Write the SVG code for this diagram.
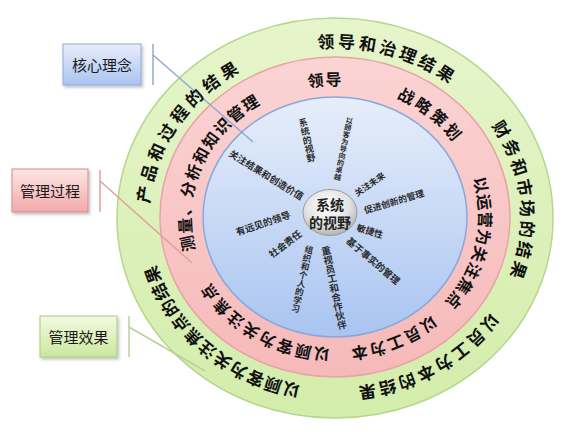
<svg xmlns="http://www.w3.org/2000/svg" width="571" height="432" viewBox="0 0 571 432">
<defs>
<linearGradient id="gGreen" x1="0" y1="0" x2="0" y2="1"><stop offset="0" stop-color="#e6f5cb"/><stop offset="1" stop-color="#d3edab"/></linearGradient>
<linearGradient id="gPink" x1="0" y1="0" x2="0" y2="1"><stop offset="0" stop-color="#fbd4d4"/><stop offset="1" stop-color="#f6b9b9"/></linearGradient>
<linearGradient id="gBlue" x1="0" y1="0" x2="0" y2="1"><stop offset="0" stop-color="#e7eefa"/><stop offset="1" stop-color="#a9c4f1"/></linearGradient>
<radialGradient id="gGray" cx="0.45" cy="0.35" r="0.7"><stop offset="0" stop-color="#ffffff"/><stop offset="0.6" stop-color="#e2e2e2"/><stop offset="1" stop-color="#a9a9a9"/></radialGradient>
<linearGradient id="bBlue" x1="0" y1="0" x2="0" y2="1"><stop offset="0" stop-color="#e8eefc"/><stop offset="1" stop-color="#aac3f0"/></linearGradient>
<linearGradient id="bPink" x1="0" y1="0" x2="0" y2="1"><stop offset="0" stop-color="#fde6e6"/><stop offset="1" stop-color="#f3a9a9"/></linearGradient>
<linearGradient id="bGreen" x1="0" y1="0" x2="0" y2="1"><stop offset="0" stop-color="#f3fae0"/><stop offset="1" stop-color="#cbe79f"/></linearGradient>
<filter id="sh" x="-20%" y="-20%" width="140%" height="140%"><feDropShadow dx="1.5" dy="2" stdDeviation="1.5" flood-color="#000" flood-opacity="0.25"/></filter>
<path id="o1" d="M141.7 202.8 A194 178 0 0 1 240.7 62.5"/>
<path id="o2" d="M317.7 40.7 A194 178 0 0 1 456.4 79.1"/>
<path id="o3" d="M498.1 121.7 A194 178 0 0 1 515.9 282.3"/>
<path id="o4" d="M496.0 317.3 A194 178 0 0 1 356.3 394.9"/>
<path id="o5" d="M299.0 392.9 A194 178 0 0 1 148.1 265.6"/>
<path id="p1" d="M188.9 252.0 A151 138.5 0 0 1 259.3 97.1"/>
<path id="p2" d="M307.7 80.8 A151 138.5 0 0 1 343.4 78.7"/>
<path id="p3" d="M399.6 91.8 A151 138.5 0 0 1 460.6 140.1"/>
<path id="p4" d="M479.4 176.6 A151 138.5 0 0 1 448.4 308.5"/>
<path id="p5" d="M435.3 320.5 A151 138.5 0 0 1 349.1 354.9"/>
<path id="p6" d="M329.4 355.4 A151 138.5 0 0 1 203.1 284.4"/>
</defs>
<style>
.ring{font-family:"Noto Sans CJK SC","Noto Sans",sans-serif;font-weight:700;fill:#111;dominant-baseline:central;text-anchor:middle}
.o{font-size:17px}
.p{font-size:16px}
.sp{font-family:"Noto Sans CJK SC","Noto Sans",sans-serif;font-weight:700;fill:#2b2b2b;text-anchor:middle;dominant-baseline:central}
.lbl{font-family:"Noto Sans CJK SC","Noto Sans",sans-serif;font-size:15px;fill:#1a1a1a;text-anchor:middle;dominant-baseline:central}
.ctr{font-family:"Noto Sans CJK SC","Noto Sans",sans-serif;font-size:14px;font-weight:700;fill:#222;text-anchor:middle;dominant-baseline:central}
.conn{fill:none;stroke-width:1.5}
</style>
<g id="rings">
<ellipse cx="335" cy="218" rx="218" ry="200" fill="url(#gGreen)" stroke="#b8d68e" stroke-width="1.5"/>
<ellipse cx="335" cy="217" rx="175" ry="160" fill="url(#gPink)" stroke="#e9a3a3" stroke-width="1.5"/>
<ellipse cx="335" cy="217" rx="132" ry="120" fill="url(#gBlue)" stroke="#88a8dc" stroke-width="1.5"/>
</g>
<g id="connectors">
<line class="conn" stroke="#8fa9d6" x1="153" y1="44" x2="153" y2="85"/>
<line class="conn" stroke="#8fa9d6" x1="153" y1="55" x2="253" y2="142"/>
<line class="conn" stroke="#e0a0a0" x1="100" y1="170" x2="100" y2="212"/>
<line class="conn" stroke="#e0a0a0" x1="100" y1="181" x2="192" y2="263"/>
<line class="conn" stroke="#b9d19a" x1="129" y1="316" x2="129" y2="357"/>
<line class="conn" stroke="#b9d19a" x1="129" y1="327" x2="205" y2="371"/>
</g>
<g id="outer-ring-text">
<text class="ring o" letter-spacing="5.3"><textPath href="#o1" startOffset="50%">产品和过程的结果</textPath></text>
<text class="ring o" letter-spacing="4.1"><textPath href="#o2" startOffset="50%">领导和治理结果</textPath></text>
<text class="ring o" letter-spacing="4.1"><textPath href="#o3" startOffset="50%">财务和市场的结果</textPath></text>
<text class="ring o" letter-spacing="3.7"><textPath href="#o4" startOffset="50%">以员工为本的结果</textPath></text>
<text class="ring o" letter-spacing="1.9"><textPath href="#o5" startOffset="50%">以顾客为关注焦点的结果</textPath></text>
</g>
<g id="middle-ring-text">
<text class="ring p" letter-spacing="2.3"><textPath href="#p1" startOffset="50%">测量、分析和知识管理</textPath></text>
<text class="ring p" letter-spacing="2"><textPath href="#p2" startOffset="50%">领导</textPath></text>
<text class="ring p" letter-spacing="3.7"><textPath href="#p3" startOffset="50%">战略策划</textPath></text>
<text class="ring p" letter-spacing="1.7"><textPath href="#p4" startOffset="50%">以运营为关注焦点</textPath></text>
<text class="ring p" letter-spacing="2.9"><textPath href="#p5" startOffset="50%">以员工为本</textPath></text>
<text class="ring p" letter-spacing="2.9"><textPath href="#p6" startOffset="50%">以顾客为关注焦点</textPath></text>
</g>
<g id="spokes">
<text class="sp" font-size="9" transform="rotate(-12.5 307 139.5)"><tspan x="307" y="121.5">系</tspan><tspan x="307" y="130.5">统</tspan><tspan x="307" y="139.5">的</tspan><tspan x="307" y="148.5">视</tspan><tspan x="307" y="157.5">野</tspan></text>
<text class="sp" font-size="7.2" transform="rotate(11.6 343.5 148.5)"><tspan x="343.5" y="119.7">以</tspan><tspan x="343.5" y="126.9">顾</tspan><tspan x="343.5" y="134.1">客</tspan><tspan x="343.5" y="141.3">为</tspan><tspan x="343.5" y="148.5">导</tspan><tspan x="343.5" y="155.7">向</tspan><tspan x="343.5" y="162.9">的</tspan><tspan x="343.5" y="170.1">卓</tspan><tspan x="343.5" y="177.3">越</tspan></text>
<text class="sp" x="369.5" y="184" font-size="8.7" transform="rotate(-34.6 369.5 184)">关注未来</text>
<text class="sp" x="394" y="201.5" font-size="8.9" transform="rotate(-16.7 394 201.5)">促进创新的管理</text>
<text class="sp" x="370" y="231" font-size="9" transform="rotate(17 370 231)">敏捷性</text>
<text class="sp" x="373.5" y="260.5" font-size="9.5" transform="rotate(40.3 373.5 260.5)">基于事实的管理</text>
<text class="sp" font-size="9.5" transform="rotate(-12 334 287.5)"><tspan x="334" y="249.5">重</tspan><tspan x="334" y="259">视</tspan><tspan x="334" y="268.5">员</tspan><tspan x="334" y="278">工</tspan><tspan x="334" y="287.5">和</tspan><tspan x="334" y="297">合</tspan><tspan x="334" y="306.5">作</tspan><tspan x="334" y="316">伙</tspan><tspan x="334" y="325.5">伴</tspan></text>
<text class="sp" font-size="8.6" transform="rotate(12.6 302.5 278.5)"><tspan x="302.5" y="248.4">组</tspan><tspan x="302.5" y="257">织</tspan><tspan x="302.5" y="265.6">和</tspan><tspan x="302.5" y="274.2">个</tspan><tspan x="302.5" y="282.8">人</tspan><tspan x="302.5" y="291.4">的</tspan><tspan x="302.5" y="300">学</tspan><tspan x="302.5" y="308.6">习</tspan></text>
<text class="sp" x="285" y="243.5" font-size="9.5" transform="rotate(-37.5 285 243.5)">社会责任</text>
<text class="sp" x="263" y="223" font-size="9.5" transform="rotate(-18.4 263 223)">有远见的领导</text>
<text class="sp" x="266.5" y="174.5" font-size="9.5" transform="rotate(31.7 266.5 174.5)">关注结果和创造价值</text>
</g>
<g id="center">
<ellipse cx="330" cy="212.5" rx="27" ry="23" fill="url(#gGray)" stroke="#9a9a9a" stroke-width="1"/>
<text class="ctr" x="330" y="204">系统</text>
<text class="ctr" x="330" y="222">的视野</text>
</g>
<g id="label-core">
<rect x="63" y="44" width="78" height="41" fill="url(#bBlue)" stroke="#8eaadb" stroke-width="1" filter="url(#sh)"/>
<text class="lbl" x="102" y="64.5">核心理念</text>
</g>
<g id="label-process">
<rect x="12" y="169" width="76" height="43" fill="url(#bPink)" stroke="#d98a8a" stroke-width="1" filter="url(#sh)"/>
<text class="lbl" x="50" y="190.5">管理过程</text>
</g>
<g id="label-effect">
<rect x="40" y="316" width="77" height="41" fill="url(#bGreen)" stroke="#a9c97c" stroke-width="1" filter="url(#sh)"/>
<text class="lbl" x="78.5" y="336.5">管理效果</text>
</g>
</svg>
